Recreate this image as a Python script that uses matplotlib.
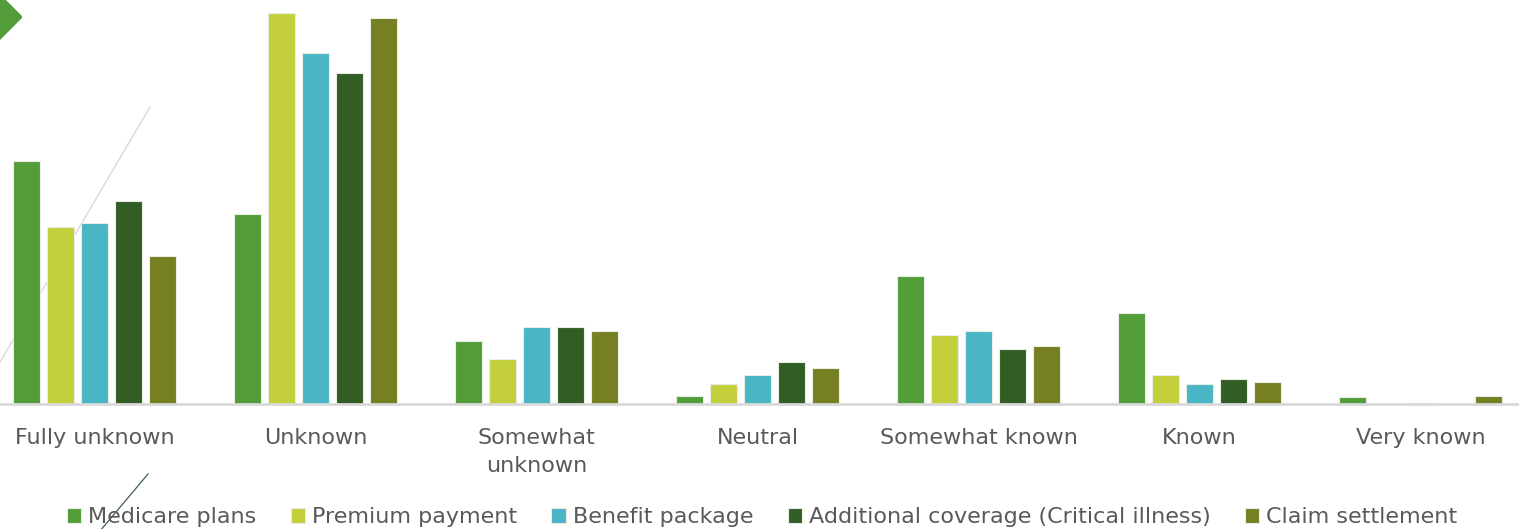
import matplotlib.pyplot as plt
import numpy as np
from matplotlib.patches import Polygon
from matplotlib.lines import Line2D

categories = ['Fully unknown', 'Unknown', 'Somewhat\nunknown', 'Neutral',
              'Somewhat known', 'Known', 'Very known']
series = ['Medicare plans', 'Premium payment', 'Benefit package',
          'Additional coverage (Critical illness)', 'Claim settlement']

# share of respondents (%) per awareness level
medicare = [33.2, 26.0, 8.6, 1.1, 17.5, 12.4, 1.0]
premium = [24.2, 53.5, 6.2, 2.7, 9.4, 4.0, 0.0]
benefit = [24.8, 48.0, 10.5, 4.0, 10.0, 2.7, 0.15]
additional = [27.8, 45.3, 10.5, 5.7, 7.5, 3.4, 0.0]
claim = [20.2, 52.8, 10.0, 4.9, 7.9, 3.0, 1.1]

colors = ['#529D3A', '#C3D03B', '#4AB5C4', '#325E25', '#767F21']
values = [medicare, premium, benefit, additional, claim]

W, H = 1519, 529
fig = plt.figure(figsize=(W / 100, H / 100), dpi=100)

# slide decorations behind the chart
fig.add_artist(Line2D([150 / W, 0], [1 - 107 / H, 1 - 362 / H],
                      transform=fig.transFigure, color='#d9d9d9', lw=1, zorder=0))
fig.add_artist(Polygon([(20 / W, 1 - 17 / H), (-5 / W, 1 + 8 / H),
                        (-30 / W, 1 - 17 / H), (-5 / W, 1 - 42 / H)],
                       closed=True, transform=fig.transFigure,
                       facecolor='#529D3A', edgecolor='#529D3A', lw=3,
                       joinstyle='round', zorder=0))

ax = fig.add_axes([-16 / W, (H - 404) / H, 1547 / W, 404 / H])
ax.patch.set_alpha(0)

x = np.arange(len(categories))
bw = 0.122
step = 0.154
for i, (name, vals, c) in enumerate(zip(series, values, colors)):
    ax.bar(x + (i - 2) * step, vals, width=bw, color=c, label=name,
           edgecolor='#e8eee6', linewidth=0.8, zorder=2)

ax.set_xlim(-0.5, len(categories) - 0.5)
ax.set_ylim(0, 404 / 7.31)
ax.set_yticks([])
for s in ['top', 'right', 'left']:
    ax.spines[s].set_visible(False)
ax.spines['bottom'].set_color('#d9d9d9')
ax.spines['bottom'].set_linewidth(2)
ax.set_xticks(x)
ax.set_xticklabels(categories, fontsize=16, color='#595959', linespacing=1.5)
ax.tick_params(axis='x', length=0, pad=17)

leg = fig.legend(loc='center', bbox_to_anchor=(762 / W, 1 - 517 / H), ncol=5,
                 frameon=False, fontsize=16, handlelength=0.65, handleheight=0.65,
                 handletextpad=0.3, columnspacing=1.55, labelcolor='#595959')

# thin accent line over the legend
fig.add_artist(Line2D([148 / W, 100 / W], [1 - 474 / H, -2 / H],
                      transform=fig.transFigure, color='#3f5f4f', lw=0.9, zorder=5))

fig.savefig('out.png', dpi=100)
